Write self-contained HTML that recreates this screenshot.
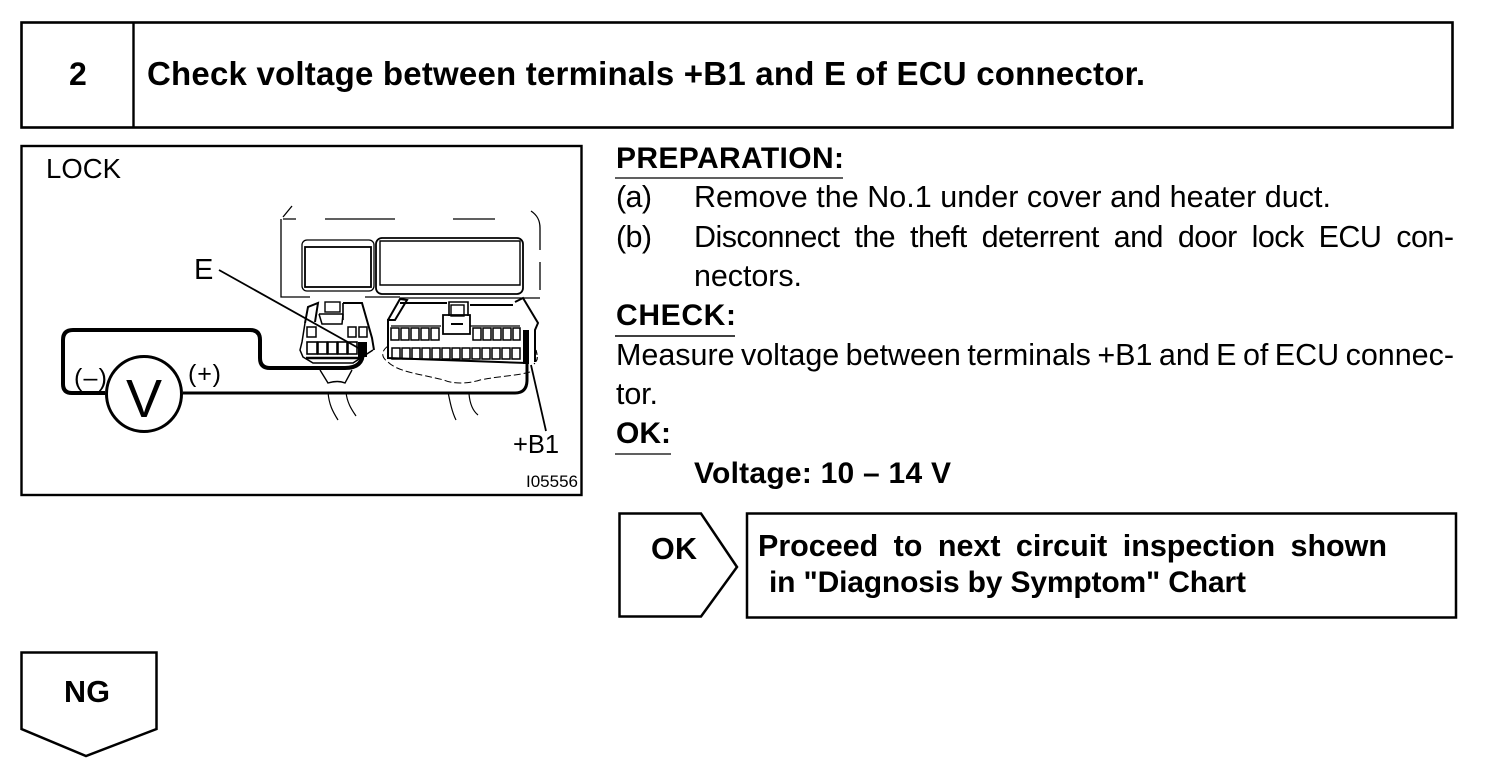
<!DOCTYPE html>
<html>
<head>
<meta charset="utf-8">
<style>
html,body{margin:0;padding:0;background:#fff;width:1504px;height:778px;overflow:hidden}
svg{display:block}
text{font-family:"Liberation Sans",sans-serif;fill:#000}
.b{font-weight:bold}
.t{font-size:30.5px}
.f{fill:none;stroke:#000}
</style>
</head>
<body>
<svg width="1504" height="778" viewBox="0 0 1504 778" xmlns="http://www.w3.org/2000/svg">
<!-- header -->
<rect class="f" x="21.5" y="22.5" width="1431" height="105" stroke-width="2.6"/>
<line class="f" x1="133.5" y1="22" x2="133.5" y2="127" stroke-width="2.4"/>
<text class="b" x="69" y="85" font-size="32">2</text>
<text class="b" x="147" y="85" font-size="33" textLength="998" lengthAdjust="spacing">Check voltage between terminals +B1 and E of ECU connector.</text>

<!-- diagram frame -->
<rect class="f" x="21.5" y="146" width="560" height="349" stroke-width="2.4"/>
<text x="46" y="178" font-size="27.5" textLength="75">LOCK</text>
<text x="194" y="279" font-size="29">E</text>
<text x="513" y="453" font-size="25.5" textLength="46">+B1</text>
<text x="526" y="487" font-size="17" textLength="52">I05556</text>
<text x="74" y="386" font-size="25" textLength="33">(–)</text>
<text x="188" y="382" font-size="25" textLength="33">(+)</text>

<!-- panel outline -->
<g class="f" stroke-width="1.3">
<path d="M292 206L283 217M283 219H296M325 219H395M453 219H495M531 211C537 215 540 220 540 228V250M540 262V290"/>
<path d="M281 219V297H310M365 297H400M400 298H540"/>
<rect x="302" y="240" width="72" height="51" rx="5" stroke-width="1.3"/>
<rect x="305" y="247" width="66" height="40" stroke-width="1.8"/>
<rect x="376" y="238" width="147" height="56" rx="6" stroke-width="1.8"/>
<path d="M380 241H520V285H380Z" stroke-width="1.4"/>
</g>

<!-- left connector -->
<g class="f" stroke-width="2">
<path d="M305 323L308 307L318 303L315 322" />
<path d="M343 303H362L372 338L374 350"/>
<path d="M305 323L302 342L300 350L303 357L313 363H353L373 350" stroke-width="1.5"/>
<path d="M343 303V320M319 314H343" stroke-width="1.6"/>
<rect x="325" y="302" width="15" height="10" stroke-width="1.4"/>
<path d="M319 314L322 324H342L343 314" stroke-width="1.5"/>
<rect x="307" y="327" width="9" height="10" stroke-width="1.5"/>
<rect x="348" y="327" width="8" height="10" stroke-width="1.5"/>
<rect x="359" y="327" width="8" height="10" stroke-width="1.5"/>
<rect x="307" y="342" width="10" height="12" stroke-width="1.6"/>
<rect x="318" y="342" width="9" height="12" stroke-width="1.6"/>
<rect x="328" y="342" width="9" height="12" stroke-width="1.6"/>
<rect x="338" y="342" width="9" height="12" stroke-width="1.6"/>
<rect x="348" y="342" width="9" height="12" stroke-width="1.6"/>
<path d="M306 358H364" stroke-width="2.5"/>
<path d="M320 370L328 383Q338 380 345 383L352 370" stroke-width="1.4"/>
<path d="M328 392C329 405 333 412 338 420M346 392C347 403 352 410 356 416" stroke-width="1.2"/>
</g>
<rect x="358" y="342" width="9" height="15" fill="#000"/>

<!-- right connector -->
<g class="f" stroke-width="2">
<path d="M388 320L400 299L407 300L395 320H388V358L527 363"/>
<path d="M400 303H447M470 305H513"/>
<path d="M515 302L523 298L538 323L535 330V362"/>
<rect x="451" y="305" width="13" height="11" stroke-width="1.4"/>
<path d="M449 316V302H468V316" stroke-width="1.6"/>
<path d="M443 315H470V334H443Z" stroke-width="1.8"/>
<path d="M451 324H463" stroke-width="2"/>
<path d="M391 326H441M470 326H520" stroke-width="1.2"/>
<g stroke-width="1.5">
<rect x="391" y="328" width="8" height="12"/><rect x="401" y="328" width="8" height="12"/><rect x="411" y="328" width="8" height="12"/><rect x="421" y="328" width="8" height="12"/><rect x="431" y="328" width="8" height="12"/>
<rect x="473" y="328" width="8" height="12"/><rect x="483" y="328" width="8" height="12"/><rect x="493" y="328" width="8" height="12"/><rect x="503" y="328" width="8" height="12"/><rect x="513" y="328" width="7" height="12"/>
<rect x="392" y="348" width="8" height="11"/><rect x="402" y="348" width="8" height="11"/><rect x="412" y="348" width="8" height="11"/><rect x="422" y="348" width="8" height="11"/><rect x="432" y="348" width="8" height="11"/><rect x="442" y="348" width="8" height="11"/><rect x="452" y="348" width="8" height="11"/><rect x="462" y="348" width="8" height="11"/><rect x="472" y="348" width="8" height="11"/><rect x="482" y="348" width="8" height="11"/><rect x="492" y="348" width="8" height="11"/><rect x="502" y="348" width="8" height="11"/><rect x="512" y="348" width="8" height="11"/>
</g>
<path d="M388 346C380 352 382 358 388 362C398 372 420 374 444 380C452 384 468 384 480 380C500 376 516 376 530 372" stroke-width="1" stroke-dasharray="7 3"/>
<path d="M448 392C450 402 452 412 456 420M469 394C470 405 473 411 478 415" stroke-width="1.2"/>
<path d="M536 350C538 358 538 360 534 364" stroke-width="1.2" stroke-dasharray="5 2"/>
</g>
<rect x="523" y="330" width="6" height="34" fill="#000"/>

<!-- leader lines -->
<line class="f" x1="219" y1="270" x2="362" y2="350" stroke-width="1.8"/>
<line class="f" x1="531" y1="365" x2="546" y2="431" stroke-width="1.8"/>

<!-- wires -->
<path class="f" d="M105 393H72Q63 393 63 384V340Q63 330 73 330H250Q260 330 260 340V358Q260 368 270 368H345Q363 368 363 352V345" stroke-width="4"/>
<path class="f" d="M183 393H515Q527 393 527 380V340" stroke-width="3"/>
<circle class="f" cx="144" cy="394" r="37.5" stroke-width="3"/>
<text x="126" y="417" font-size="54">V</text>

<!-- right text -->
<text class="b" x="616" y="168" font-size="30" textLength="228">PREPARATION:</text>
<line class="f" x1="615" y1="178" x2="843" y2="178" stroke-width="1.3"/>
<text class="t" x="616" y="207" textLength="36">(a)</text>
<text class="t" x="694" y="207" textLength="637">Remove the No.1 under cover and heater duct.</text>
<text class="t" x="616" y="247" textLength="36">(b)</text>
<text class="t" x="694" y="247" textLength="760" lengthAdjust="spacing" word-spacing="7">Disconnect the theft deterrent and door lock ECU con-</text>
<text class="t" x="694" y="286" textLength="108">nectors.</text>
<text class="b" x="616" y="325" font-size="30" textLength="120">CHECK:</text>
<line class="f" x1="615" y1="336" x2="735" y2="336" stroke-width="1.6"/>
<text class="t" x="616" y="365" textLength="838" lengthAdjust="spacing" word-spacing="-2">Measure voltage between terminals +B1 and E of ECU connec-</text>
<text class="t" x="616" y="404" textLength="42">tor.</text>
<text class="b" x="616" y="443" font-size="30" textLength="55">OK:</text>
<line class="f" x1="615" y1="454" x2="671" y2="454" stroke-width="1.2"/>
<text class="b" x="694" y="483" font-size="30" textLength="257">Voltage: 10 – 14 V</text>

<!-- OK box -->
<path class="f" d="M619.5 513.5H701L737 567L701 616.5H619.5Z" stroke-width="2.5"/>
<text class="b" x="651" y="559" font-size="30.5" textLength="46">OK</text>
<rect class="f" x="747" y="513.5" width="709" height="104" stroke-width="2.5"/>
<text class="b" x="758" y="556" font-size="30.5" textLength="629" lengthAdjust="spacing" word-spacing="7">Proceed to next circuit inspection shown</text>
<text class="b" x="769" y="592" font-size="30" textLength="477" lengthAdjust="spacing">in "Diagnosis by Symptom" Chart</text>

<!-- NG box -->
<path class="f" d="M21.5 652.5H156.5V729L86 756L21.5 729Z" stroke-width="2.5"/>
<text class="b" x="64" y="702" font-size="30.5" textLength="46">NG</text>
</svg>
</body>
</html>
